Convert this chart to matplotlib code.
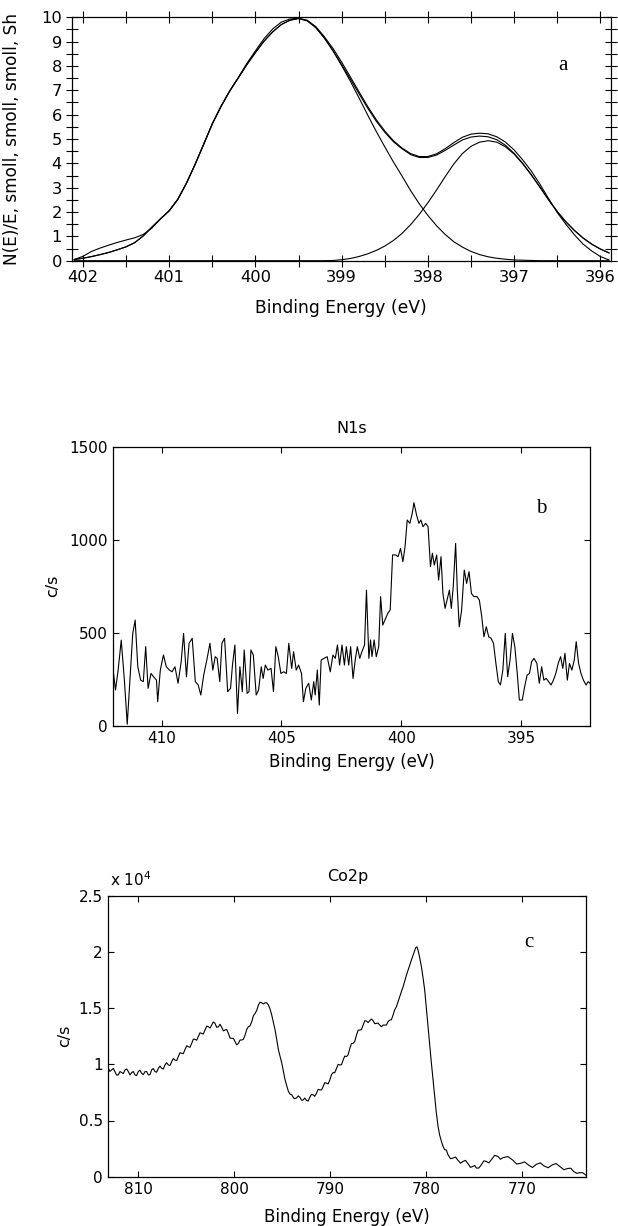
import numpy as np
import matplotlib
matplotlib.use("Agg")
import matplotlib.pyplot as plt
from matplotlib.ticker import MultipleLocator, FixedLocator

plt.rcParams['font.family'] = ['DejaVu Sans']

# ---------------- Panel a : N1s curve fit ----------------
energy_a = np.linspace(402.1, 395.9, 63)
comp1_a = [0.05, 0.10, 0.17, 0.25, 0.34, 0.45, 0.57, 0.74, 1.02, 1.38,
           1.72, 2.05, 2.52, 3.18, 3.95, 4.78, 5.62, 6.33, 6.96, 7.50,
           8.05, 8.55, 9.02, 9.40, 9.70, 9.88, 9.95, 9.86, 9.58, 9.15,
           8.62, 8.02, 7.38, 6.70, 6.00, 5.32, 4.68, 4.06, 3.48, 2.88,
           2.34, 1.86, 1.44, 1.08, 0.78, 0.56, 0.38, 0.25, 0.16, 0.10,
           0.06, 0.03, 0.02, 0.01, 0.00, 0.00, 0.00, 0.00, 0.00, 0.00,
           0.00, 0.00, 0.00]
comp2_a = [0.0] * 30 + [
           0.01, 0.04, 0.09, 0.17, 0.28, 0.42, 0.60, 0.83, 1.12, 1.48,
           1.90, 2.38, 2.90, 3.45, 3.97, 4.40, 4.70, 4.87, 4.93, 4.87,
           4.68, 4.38, 3.98, 3.52, 3.02, 2.50, 2.02, 1.60, 1.24, 0.93,
           0.68, 0.48, 0.32]
fit_a = [0.05, 0.10, 0.17, 0.25, 0.34, 0.45, 0.57, 0.74, 1.02, 1.38,
         1.72, 2.05, 2.52, 3.18, 3.95, 4.78, 5.62, 6.33, 6.96, 7.50,
         8.05, 8.55, 9.02, 9.40, 9.70, 9.88, 9.95, 9.86, 9.58, 9.15,
         8.63, 8.06, 7.47, 6.87, 6.28, 5.74, 5.28, 4.89, 4.60, 4.36,
         4.24, 4.24, 4.34, 4.53, 4.75, 4.96, 5.08, 5.12, 5.09, 4.97,
         4.74, 4.41, 4.00, 3.53, 3.02, 2.50, 2.02, 1.60, 1.24, 0.93,
         0.68, 0.48, 0.32]
data_a = [0.05, 0.18, 0.38, 0.52, 0.64, 0.75, 0.85, 0.94, 1.08, 1.34,
          1.72, 2.05, 2.52, 3.18, 3.95, 4.78, 5.62, 6.33, 6.96, 7.52,
          8.10, 8.62, 9.12, 9.52, 9.80, 9.93, 9.96, 9.88, 9.62, 9.20,
          8.72, 8.16, 7.56, 6.95, 6.35, 5.80, 5.33, 4.93, 4.63, 4.40,
          4.28, 4.28, 4.39, 4.60, 4.85, 5.07, 5.20, 5.24, 5.21, 5.09,
          4.87, 4.55, 4.14, 3.68, 3.14, 2.55, 1.98, 1.50, 1.06, 0.68,
          0.40, 0.17, 0.03]

# ---------------- Panel b : N1s raw spectrum ----------------
energy_b = [412.02, 411.92, 411.81, 411.68, 411.55, 411.43, 411.32, 411.20, 411.10, 410.99,
            410.87, 410.76, 410.66, 410.56, 410.44, 410.33, 410.21, 410.16, 410.05, 409.92,
            409.80, 409.67, 409.56, 409.44, 409.31, 409.18, 409.08, 408.96, 408.85, 408.72,
            408.59, 408.47, 408.36, 408.24, 408.11, 407.98, 407.86, 407.76, 407.68, 407.57,
            407.48, 407.37, 407.24, 407.12, 407.04, 406.94, 406.83, 406.73, 406.63, 406.55,
            406.43, 406.35, 406.27, 406.17, 406.05, 405.95, 405.84, 405.76, 405.67, 405.56,
            405.43, 405.33, 405.23, 405.13, 405.02, 404.90, 404.79, 404.69, 404.57, 404.49,
            404.38, 404.28, 404.16, 404.08, 403.98, 403.86, 403.75, 403.65, 403.59, 403.50,
            403.42, 403.34, 403.22, 403.09, 402.96, 402.85, 402.75, 402.66, 402.57, 402.47,
            402.37, 402.29, 402.19, 402.11, 402.01, 401.91, 401.83, 401.73, 401.64, 401.53,
            401.45, 401.35, 401.28, 401.22, 401.13, 401.04, 400.94, 400.86, 400.77, 400.68,
            400.56, 400.46, 400.36, 400.23, 400.13, 400.03, 399.93, 399.84, 399.75, 399.64,
            399.54, 399.47, 399.36, 399.26, 399.18, 399.09, 398.98, 398.88, 398.78, 398.70,
            398.62, 398.52, 398.44, 398.34, 398.26, 398.17, 398.09, 397.99, 397.91, 397.83,
            397.73, 397.66, 397.58, 397.48, 397.37, 397.27, 397.17, 397.07, 396.97, 396.84,
            396.74, 396.64, 396.55, 396.45, 396.35, 396.25, 396.15, 396.05, 395.95, 395.86,
            395.76, 395.66, 395.56, 395.46, 395.36, 395.26, 395.16, 395.07, 394.95, 394.85,
            394.75, 394.65, 394.56, 394.46, 394.34, 394.24, 394.14, 394.05, 393.95, 393.85,
            393.75, 393.65, 393.55, 393.45, 393.35, 393.26, 393.17, 393.07, 392.98, 392.88,
            392.78, 392.70, 392.60, 392.50, 392.40, 392.29, 392.20, 392.12]
counts_b = [299, 192, 299, 460, 245, 8, 245, 496, 568, 317,
            245, 237, 425, 201, 281, 263, 245, 129, 299, 380,
            317, 299, 290, 317, 228, 344, 496, 263, 443, 470,
            237, 219, 165, 272, 353, 443, 299, 371, 362, 237,
            443, 470, 183, 201, 326, 434, 66, 317, 183, 407,
            174, 183, 407, 380, 165, 192, 317, 254, 326, 299,
            308, 183, 425, 371, 281, 290, 281, 443, 308, 398,
            299, 326, 281, 129, 201, 228, 138, 237, 165, 299,
            111, 353, 362, 371, 290, 380, 362, 434, 326, 434,
            326, 425, 326, 425, 254, 362, 425, 362, 398, 434,
            729, 362, 461, 371, 461, 371, 425, 694, 541, 568,
            604, 622, 918, 918, 909, 953, 882, 962, 1106, 1088,
            1142, 1199, 1133, 1088, 1106, 1070, 1088, 1070, 855, 927,
            864, 918, 783, 909, 711, 631, 675, 729, 631, 747,
            980, 729, 532, 622, 837, 765, 828, 711, 694, 694,
            675, 586, 478, 532, 478, 470, 443, 335, 237, 219,
            299, 496, 263, 353, 496, 425, 281, 138, 138, 210,
            272, 281, 344, 362, 335, 228, 317, 245, 254, 237,
            219, 245, 281, 335, 371, 308, 389, 245, 335, 299,
            353, 452, 335, 281, 245, 219, 237, 228]

# ---------------- Panel c : Co2p raw spectrum (units of 10^4 c/s) ----------------
energy_c = [813.09, 812.74, 812.40, 812.05, 811.70, 811.35, 811.00, 810.66, 810.31, 809.97,
            809.62, 809.27, 808.92, 808.58, 808.23, 807.88, 807.53, 807.19, 806.84, 806.49,
            806.15, 805.80, 805.45, 805.10, 804.76, 804.41, 804.06, 803.72, 803.37, 803.02,
            802.67, 802.33, 801.98, 801.63, 801.28, 800.94, 800.59, 800.24, 799.90, 799.55,
            799.20, 798.85, 798.51, 798.16, 797.81, 797.47, 797.12, 796.77, 796.42, 796.08,
            795.73, 795.38, 795.03, 794.69, 794.34, 793.99, 793.50, 793.15, 792.81, 792.46,
            792.11, 791.77, 791.42, 791.07, 790.73, 790.38, 790.03, 789.69, 789.34, 788.99,
            788.65, 788.30, 787.95, 787.61, 787.26, 786.92, 786.57, 786.22, 785.88, 785.53,
            785.18, 784.84, 784.49, 784.14, 783.80, 783.45, 783.10, 782.76, 782.41, 782.06,
            781.72, 781.37, 781.09, 780.85, 780.50, 780.16, 779.81, 779.46, 779.12, 778.77,
            778.42, 778.08, 777.73, 777.21, 776.69, 776.17, 775.65, 775.13, 774.78, 774.26,
            773.74, 773.22, 772.53, 772.00, 771.00, 770.18, 769.36, 768.54, 767.72, 766.90,
            766.08, 765.25, 764.64, 764.02, 763.40]
counts_c = [0.964, 0.950, 0.935, 0.905, 0.926, 0.950, 0.935, 0.926, 0.905, 0.935,
            0.920, 0.935, 0.905, 0.950, 0.935, 0.964, 0.964, 0.994, 0.994, 1.024,
            1.038, 1.068, 1.098, 1.133, 1.157, 1.186, 1.222, 1.246, 1.275, 1.305,
            1.334, 1.349, 1.364, 1.334, 1.328, 1.305, 1.275, 1.231, 1.201, 1.186,
            1.216, 1.260, 1.334, 1.379, 1.453, 1.527, 1.547, 1.547, 1.527, 1.438,
            1.305, 1.127, 1.009, 0.861, 0.757, 0.728, 0.700, 0.707, 0.683, 0.678,
            0.707, 0.728, 0.743, 0.772, 0.802, 0.831, 0.861, 0.926, 0.964, 0.994,
            1.038, 1.068, 1.142, 1.186, 1.260, 1.305, 1.349, 1.385, 1.388, 1.388,
            1.364, 1.349, 1.349, 1.349, 1.393, 1.438, 1.512, 1.601, 1.689, 1.793,
            1.882, 1.970, 2.038, 2.015, 1.867, 1.660, 1.334, 1.009, 0.713, 0.447,
            0.314, 0.240, 0.195, 0.166, 0.145, 0.136, 0.115, 0.092, 0.077, 0.107,
            0.136, 0.151, 0.180, 0.170, 0.148, 0.119, 0.104, 0.110, 0.095, 0.104,
            0.089, 0.074, 0.045, 0.036, 0.015]
# in-between readings of the noisy Co2p trace
energy_c_mid = [812.92, 812.57, 812.23, 811.88, 811.53, 811.18, 810.83, 810.49, 810.14, 809.80,
                809.45, 809.10, 808.75, 808.41, 808.06, 807.71, 807.36, 807.02, 806.67, 806.32,
                805.98, 805.63, 805.28, 804.93, 804.59, 804.24, 803.89, 803.55, 803.20, 802.85,
                802.50, 802.16, 801.81, 801.46, 801.11, 800.77, 800.42, 800.07, 799.73, 799.38,
                799.03, 798.68, 798.34, 797.99, 797.64, 797.30, 796.95, 796.60, 796.25, 795.91,
                795.56, 795.21, 794.86, 794.52, 794.17, 793.75, 793.33, 792.98, 792.64, 792.29,
                791.94, 791.60, 791.25, 790.90, 790.56, 790.21, 789.86, 789.52, 789.17, 788.82,
                788.48, 788.13, 787.78, 787.44, 787.09, 786.75, 786.40, 786.05, 785.71, 785.36,
                785.01, 784.67, 784.32, 783.97, 783.63, 783.28, 782.93, 782.59, 782.24, 781.89,
                781.55, 781.23, 780.97, 780.68, 780.33, 779.99, 779.64, 779.29, 778.95, 778.60,
                778.25, 777.91, 777.47, 776.95, 776.43, 775.91, 775.39, 774.96, 774.52, 774.00,
                773.48, 772.88, 772.27, 771.50, 770.59, 769.77, 768.95, 768.13, 767.31, 766.49,
                765.67, 764.95, 764.33, 763.71]
counts_c_mid = [0.937, 0.963, 0.905, 0.936, 0.918, 0.958, 0.905, 0.936, 0.900, 0.948,
                0.908, 0.935, 0.908, 0.963, 0.930, 0.984, 0.959, 1.014, 0.989, 1.051,
                1.033, 1.103, 1.095, 1.165, 1.151, 1.224, 1.214, 1.280, 1.270, 1.340,
                1.322, 1.377, 1.329, 1.356, 1.297, 1.310, 1.233, 1.231, 1.173, 1.216,
                1.223, 1.312, 1.342, 1.431, 1.480, 1.552, 1.537, 1.547, 1.490, 1.372,
                1.216, 1.068, 0.935, 0.809, 0.735, 0.694, 0.719, 0.680, 0.700, 0.673,
                0.733, 0.715, 0.778, 0.772, 0.837, 0.826, 0.908, 0.925, 0.999, 0.996,
                1.073, 1.085, 1.184, 1.203, 1.303, 1.307, 1.387, 1.371, 1.403, 1.361,
                1.367, 1.334, 1.349, 1.381, 1.396, 1.485, 1.557, 1.645, 1.741, 1.838,
                1.926, 2.004, 2.045, 1.950, 1.770, 1.500, 1.170, 0.860, 0.570, 0.370,
                0.270, 0.238, 0.160, 0.175, 0.120, 0.145, 0.083, 0.100, 0.077, 0.141,
                0.123, 0.190, 0.155, 0.179, 0.113, 0.132, 0.082, 0.123, 0.080, 0.117,
                0.062, 0.075, 0.030, 0.035]

W, H = 618, 1226
fig = plt.figure(figsize=(W / 100, H / 100), dpi=100)


def add_axes_px(left, right, top, bottom):
    return fig.add_axes([left / W, 1 - bottom / H, (right - left) / W, (bottom - top) / H])


lw = 0.8
serif = ['Liberation Serif', 'DejaVu Serif']

# ---- Panel a ----
axa = add_axes_px(71.7, 610.7, 17.3, 260.7)
axa.plot(energy_a, comp1_a, color='black', lw=lw)
axa.plot(energy_a, comp2_a, color='black', lw=lw)
axa.plot(energy_a, fit_a, color='black', lw=lw)
axa.plot(energy_a, data_a, color='black', lw=lw)
axa.set_xlim(402.13, 395.88)
axa.set_ylim(0, 10)
axa.xaxis.set_major_locator(MultipleLocator(1))
axa.xaxis.set_minor_locator(MultipleLocator(0.5))
axa.yaxis.set_major_locator(MultipleLocator(1))
axa.yaxis.set_minor_locator(MultipleLocator(0.5))
axa.tick_params(which='both', direction='inout', top=True, right=True,
                length=8, width=0.8, labelsize=11.7, pad=3)
axa.set_xlabel('Binding Energy (eV)', fontsize=12.3)
axa.xaxis.set_label_coords(0.5, -0.194)
axa.xaxis.label.set_va('center')
axa.set_ylabel('N(E)/E, smoll, smoll, smoll, Sh', fontsize=12.2)
axa.yaxis.set_label_coords(-0.110, 0.5)
axa.yaxis.label.set_va('center')
axa.text(0.911, 0.80, 'a', transform=axa.transAxes, ha='center', va='center',
         fontsize=15, family=serif)

# ---- Panel b ----
axb = add_axes_px(113.1, 590.1, 446.7, 725.7)
axb.plot(energy_b, counts_b, color='black', lw=lw)
axb.set_xlim(412.02, 392.12)
axb.set_ylim(0, 1500)
axb.xaxis.set_major_locator(FixedLocator([410, 405, 400, 395]))
axb.yaxis.set_major_locator(FixedLocator([0, 500, 1000, 1500]))
axb.tick_params(direction='in', top=True, right=True, length=4, width=0.8,
                labelsize=11, pad=4)
axb.set_xlabel('Binding Energy (eV)', fontsize=12)
axb.xaxis.set_label_coords(0.5, -0.130)
axb.xaxis.label.set_va('center')
axb.set_ylabel('c/s', fontsize=11.5)
axb.yaxis.set_label_coords(-0.126, 0.5)
axb.yaxis.label.set_va('center')
axb.text(0.5, 1.067, 'N1s', transform=axb.transAxes, ha='center', va='center', fontsize=11.5)
axb.text(0.897, 0.780, 'b', transform=axb.transAxes, ha='center', va='center',
         fontsize=15, family=serif)

# ---- Panel c ----
e_all = np.array(energy_c + energy_c_mid)
c_all = np.array(counts_c + counts_c_mid)
order = np.argsort(-e_all)
axc = add_axes_px(108.4, 586.1, 895.7, 1176.7)
axc.plot(e_all[order], c_all[order], color='black', lw=lw)
axc.set_xlim(813.08, 763.36)
axc.set_ylim(0, 2.5)
axc.xaxis.set_major_locator(FixedLocator([810, 800, 790, 780, 770]))
axc.yaxis.set_major_locator(FixedLocator([0, 0.5, 1, 1.5, 2, 2.5]))
axc.set_yticklabels(['0', '0.5', '1', '1.5', '2', '2.5'])
axc.tick_params(direction='in', top=True, right=True, length=4.5, width=0.8,
                labelsize=11, pad=4)
axc.set_xlabel('Binding Energy (eV)', fontsize=12)
axc.xaxis.set_label_coords(0.5, -0.143)
axc.xaxis.label.set_va('center')
axc.set_ylabel('c/s', fontsize=11.5)
axc.yaxis.set_label_coords(-0.091, 0.5)
axc.yaxis.label.set_va('center')
axc.text(0.5, 1.070, 'Co2p', transform=axc.transAxes, ha='center', va='center', fontsize=11.5)
axc.text(0.003, 1.058, r'x 10$^4$', transform=axc.transAxes, ha='left', va='center', fontsize=11)
axc.text(0.880, 0.835, 'c', transform=axc.transAxes, ha='center', va='center',
         fontsize=15, family=serif)

for ax in (axa, axb, axc):
    for s in ax.spines.values():
        s.set_linewidth(0.9)

fig.savefig('out.png', dpi=100)
